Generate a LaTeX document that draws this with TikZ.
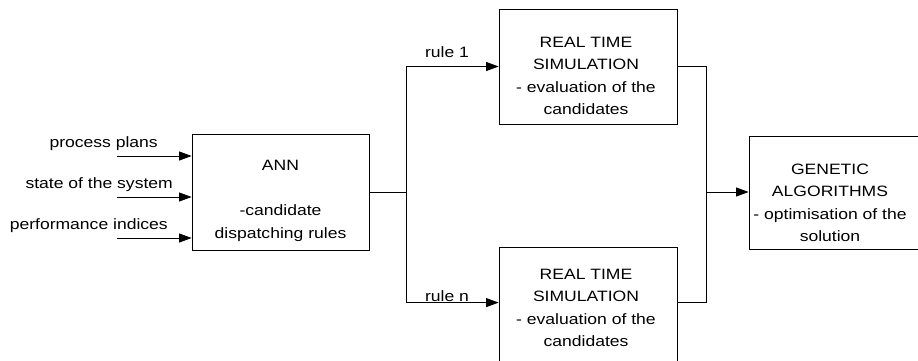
\documentclass[tikz,border=0pt]{standalone}
\usepackage{fontspec}
\setmainfont[FakeStretch=1.17]{Liberation Sans}
\usetikzlibrary{arrows.meta,calc}
\begin{document}
\begin{tikzpicture}[x=1pt,y=-1pt,
  every node/.style={font=\fontsize{15}{22.5}\selectfont, inner sep=0pt},
  blk/.style={draw, line width=0.8pt, minimum width=#1},
  txt/.style={align=center},
  lbl/.style={anchor=east},
  conn/.style={line width=0.8pt},
  arr/.style={conn, -{Triangle[length=12.5pt,width=9pt]}}]
\useasboundingbox (0,0) rectangle (918,361);
% boxes
\node[blk=177, minimum height=116] (ann) at (280.5,192) {};
\node[txt] (anntxt) at (280.5,201) {ANN\\[22.5pt]-candidate\\dispatching rules};
\node[blk=178, minimum height=115] (sim1) at (588,66.5) {};
\node[txt] (sim1txt) at (586,76) {REAL TIME\\SIMULATION\\- evaluation of the\\candidates};
\node[blk=178, minimum height=118] (sim2) at (588,306) {};
\node[txt] (sim2txt) at (586,308) {REAL TIME\\SIMULATION\\- evaluation of the\\candidates};
\node[blk=180, minimum height=113] (gen) at (839,192.5) {};
\node[txt] (gentxt) at (830,203) {GENETIC\\ALGORITHMS\\- optimisation of the\\solution};
% input labels
\node[lbl] (lpp) at (158,144) {process plans};
\node[lbl] (lss) at (173,185) {state of the system};
\node[lbl] (lpi) at (168,226) {performance indices};
\coordinate (in1) at (117,156);
\coordinate (in2) at (117,197);
\coordinate (in3) at (117,238);
\draw[arr] (in1) -- (in1 -| ann.west);
\draw[arr] (in2) -- (in2 -| ann.west);
\draw[arr] (in3) -- (in3 -| ann.west);
% split
\coordinate (j1) at (406,192);
\coordinate (t1) at ($(sim2.north west)+(0,56)$);
\draw[conn] (ann.east) -- (j1);
\draw[arr] (j1) |- (sim1.west);
\draw[arr] (j1) |- (t1);
\node (r1) at (447,52) {rule 1};
\node (rn) at (447,296) {rule n};
% merge
\coordinate (j2) at (706,192);
\coordinate (t2) at ($(sim2.north east)+(0,56)$);
\draw[conn] (sim1.east) -| (j2);
\draw[conn] (t2) -| (j2);
\draw[arr] (j2) -- (gen.west |- j2);
\end{tikzpicture}
\end{document}
